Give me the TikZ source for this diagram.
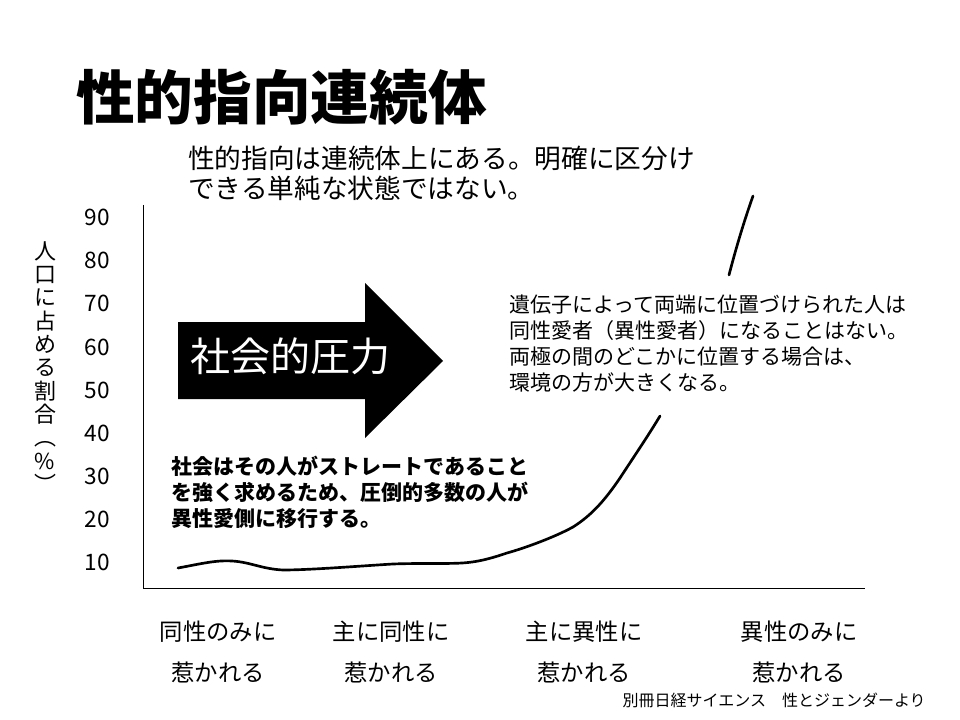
\documentclass[tikz,border=0pt]{standalone}
\usepackage{fontspec}
\setmainfont{Noto Sans CJK JP}
\usetikzlibrary{positioning}

\begin{document}
\begin{tikzpicture}[x=0.75pt,y=0.75pt,yscale=-1,xscale=1,
  ticklabel/.style={anchor=east,inner sep=0.75pt,font=\fontsize{17}{17}\selectfont},
  catlabel/.style={inner sep=0.75pt,font=\fontsize{17.5}{17.5}\selectfont},
  notetext/.style={anchor=west,inner sep=0.75pt,align=left}]
\useasboundingbox (0,0) rectangle (960,720);

%Straight Lines [id:axes]
\coordinate (ytop) at (143,205);
\coordinate (origin) at (143,588);
\coordinate (xend) at (865,588);
\draw [line width=0.75] (ytop) -- (origin) -- (xend);

%Curve Lines [id:lower]
\draw [line width=2, line cap=round] (178,568) .. controls (200,564) and (215,560) .. (232,561) .. controls (250,562) and (262,569) .. (283,570) .. controls (310,570) and (360,566) .. (393,564) .. controls (420,563) and (445,564) .. (462,563) .. controls (480,562) and (495,557) .. (507,553) .. controls (525,548) and (555,537) .. (573,527) .. controls (592,515) and (605,500) .. (620,478) .. controls (635,455) and (648,436) .. (660,416) ;
%Curve Lines [id:upper]
\draw [line width=2, line cap=round] (729,275) .. controls (735,252) and (743,224) .. (753,196) ;

%Shape: Right Arrow [id:pressure]
\fill [black] (178,322) -- (365,322) -- (365,283) -- (443,361) -- (365,438) -- (365,399) -- (178,399) -- cycle ;

% Text Node
\node (title) [anchor=west,inner sep=0pt,font=\fontsize{44}{44}\selectfont\bfseries] at (76,97) {性的指向連続体};
% Text Node
\node (lead) [notetext,font=\fontsize{20}{22.5}\selectfont] at (187,173) {性的指向は連続体上にある。明確に区分け\\できる単純な状態ではない。};
% Text Node
\node (pressure) [inner sep=0pt,text=white,font=\fontsize{30}{30}\selectfont] at (290,356) {社会的圧力};
% Text Node
\node (society) [notetext,font=\fontsize{15.75}{19.5}\selectfont\bfseries] at (170,492) {社会はその人がストレートであること\\を強く求めるため、圧倒的多数の人が\\異性愛側に移行する。};
% Text Node
\node (genes) [notetext,font=\fontsize{15.75}{19.5}\selectfont] at (508,344) {遺伝子によって両端に位置づけられた人は\\同性愛者（異性愛者）になることはない。\\両極の間のどこかに位置する場合は、\\環境の方が大きくなる。};

% Text Node
\node (ylabel) [inner sep=0pt,align=center,font=\fontsize{16.5}{17.5}\selectfont] at (45,367) {人\\口\\に\\占\\め\\る\\割\\合\\︵\\\%\\︶};

% Text Node
\node (tick90) [ticklabel] at (111,217) {90};
\node (tick80) [ticklabel] at (111,260) {80};
\node (tick70) [ticklabel] at (111,303) {70};
\node (tick60) [ticklabel] at (111,347) {60};
\node (tick50) [ticklabel] at (111,390) {50};
\node (tick40) [ticklabel] at (111,433) {40};
\node (tick30) [ticklabel] at (111,476) {30};
\node (tick20) [ticklabel] at (111,519) {20};
\node (tick10) [ticklabel] at (111,562) {10};

% Text Node
\node (homoonly) [catlabel] at (218,632) {同性のみに};
\node (homoonlyb) [catlabel] at (218,672) {惹かれる};
\node (homomost) [catlabel] at (391,632) {主に同性に};
\node (homomostb) [catlabel] at (391,672) {惹かれる};
\node (heteromost) [catlabel] at (584,632) {主に異性に};
\node (heteromostb) [catlabel] at (584,672) {惹かれる};
\node (heteroonly) [catlabel] at (799,632) {異性のみに};
\node (heteroonlyb) [catlabel] at (799,672) {惹かれる};

% Text Node
\node (source) [anchor=east,inner sep=0pt,font=\fontsize{12}{12}\selectfont] at (926,700) {別冊日経サイエンス　性とジェンダーより};

\end{tikzpicture}
\end{document}
